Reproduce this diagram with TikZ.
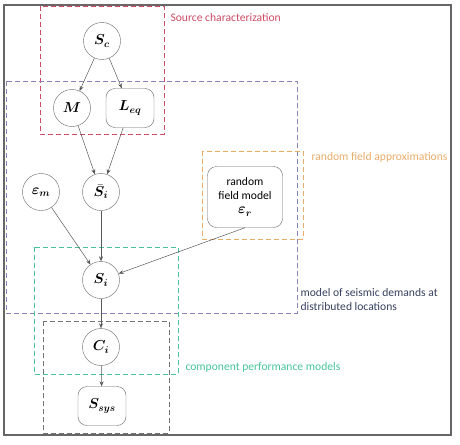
\documentclass[tikz,border=0pt]{standalone}
\usepackage{fontspec}
\setmainfont{Carlito}
\usepackage{bm}
\usetikzlibrary{arrows.meta}
\definecolor{srcred}{RGB}{205,75,100}
\definecolor{dempurple}{RGB}{140,130,185}
\definecolor{rforange}{RGB}{232,172,105}
\definecolor{compgreen}{RGB}{70,195,155}
\definecolor{labelnavy}{RGB}{55,65,95}

\begin{document}
\begin{tikzpicture}[x=1pt, y=-1pt, every node/.style={font=\fontsize{11.6}{13.5}\selectfont},
    var/.style={draw=black!60, circle, minimum size=37pt, inner sep=0pt, font=\Large},
    varbox/.style={draw=black!60, rounded corners=9pt, minimum width=48pt, minimum height=39pt, inner sep=1pt, font=\Large},
    link/.style={-{Stealth[length=5pt,width=4pt]}, black!65, line width=0.5pt},
    group/.style={dash pattern=on 5pt off 3pt, line width=0.8pt}]
      \useasboundingbox (0,0) rectangle (460,444);
      % outer frame
      \draw[black!60, line width=1.2pt] (4,5) rectangle (451,435);
      % Source characterization box
      \draw[group, srcred] (40,6) rectangle (164,134);
      \node[srcred, anchor=west] (srclabel) at (167,18) {Source characterization};
      % demands box
      \draw[group, dempurple] (6,81) rectangle (297,313);
      \node[labelnavy, anchor=north west, align=left] (demlabel) at (297,285) {model of seismic demands at\\distributed locations};
      % random field box
      \draw[group, rforange] (202,151) rectangle (303,239);
      \node[rforange, anchor=west] (rflabel) at (308,157) {random field approximations};
      % component performance box
      \draw[group, compgreen] (34,247) rectangle (178,374);
      \node[compgreen, anchor=west] (complabel) at (182,367) {component performance models};
      % system box
      \draw[group, black!55] (43,321) rectangle (169,433);
      % variables
      \node[var] (sc) at (102,41) {$\bm{S_c}$};
      \node[var] (mag) at (72,108) {$\bm{M}$};
      \node[varbox] (leq) at (130,108) {$\bm{L_{eq}}$};
      \node[var] (epsm) at (41,192) {$\bm{\varepsilon_m}$};
      \node[var] (sbar) at (101,192) {$\bm{\bar{S}_i}$};
      \node[varbox, minimum width=75pt, minimum height=61pt, align=center, font=\fontsize{11.6}{14}\selectfont] (rfm) at (245,197) {random\\field model\\\Large$\bm{\varepsilon_r}$};
      \node[var] (si) at (101,280) {$\bm{S_i}$};
      \node[var] (ci) at (101,347) {$\bm{C_i}$};
      \node[varbox] (ssys) at (102,406) {$\bm{S_{sys}}$};
      % links
      \draw[link] (sc) -- (mag);
      \draw[link] (sc) -- (leq);
      \draw[link] (mag) -- (sbar);
      \draw[link] (leq) -- (sbar);
      \draw[link] (epsm) -- (si);
      \draw[link] (sbar) -- (si);
      \draw[link] (rfm.south) -- (si);
      \draw[link] (si) -- (ci);
      \draw[link] (ci) -- (ssys);
    \end{tikzpicture}
\end{document}
